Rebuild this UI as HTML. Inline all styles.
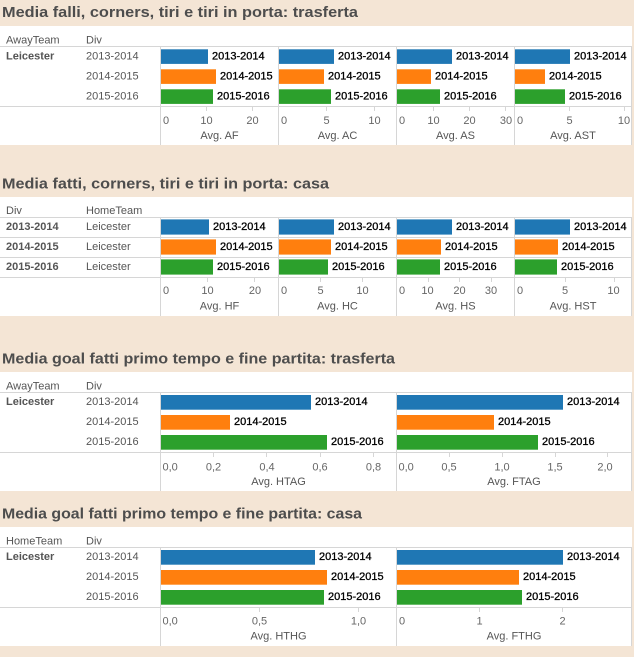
<!DOCTYPE html>
<html><head><meta charset="utf-8"><style>
html,body{margin:0;padding:0;background:#f4e5d5;}
svg{display:block;}
text{font-family:"Liberation Sans",Arial,sans-serif;font-size:11px;fill:#555;}
.t{font-size:15px;font-weight:bold;fill:#4d4d4d;}
.b{font-weight:bold;}
.v{fill:#000;stroke:#000;stroke-width:0.3px;}
.k{fill:#666;}
.m{text-anchor:middle;}
.ln{stroke:#d6d6d6;stroke-width:1;fill:none;}
.tk{stroke:#d6d6d6;stroke-width:1;}
</style></head><body>
<svg width="634" height="657" viewBox="0 0 634 657" xmlns="http://www.w3.org/2000/svg">
<rect x="0" y="0" width="634" height="657" fill="#f4e5d5"/>

<!-- ============ SECTION 1 ============ -->
<text class="t" x="2" y="17" textLength="356" lengthAdjust="spacingAndGlyphs">Media falli, corners, tiri e tiri in porta: trasferta</text>
<rect x="0" y="26" width="632" height="119" fill="#fff"/>
<text x="6" y="43.5">AwayTeam</text><text x="86" y="43.5">Div</text>
<path class="ln" d="M0 46.5H632M0 106.5H632M160.5 46.5V145M278.5 46.5V145M396.5 46.5V145M514.5 46.5V145M631.5 46.5V145"/>
<text class="b" x="6" y="59.5">Leicester</text>
<text x="86" y="59.5">2013-2014</text><text x="86" y="79.5">2014-2015</text><text x="86" y="99.5">2015-2016</text>
<!-- AF -->
<rect x="161" y="49.3" width="47" height="14.6" fill="#1f77b4"/>
<rect x="161" y="69.3" width="55" height="14.6" fill="#ff7f0e"/>
<rect x="161" y="89.3" width="52" height="14.6" fill="#2ca02c"/>
<text class="v" x="212" y="59.5">2013-2014</text><text class="v" x="220" y="79.5">2014-2015</text><text class="v" x="217" y="99.5">2015-2016</text>
<!-- AC -->
<rect x="279" y="49.3" width="55" height="14.6" fill="#1f77b4"/>
<rect x="279" y="69.3" width="45" height="14.6" fill="#ff7f0e"/>
<rect x="279" y="89.3" width="52" height="14.6" fill="#2ca02c"/>
<text class="v" x="338" y="59.5">2013-2014</text><text class="v" x="328" y="79.5">2014-2015</text><text class="v" x="335" y="99.5">2015-2016</text>
<!-- AS -->
<rect x="397" y="49.3" width="55" height="14.6" fill="#1f77b4"/>
<rect x="397" y="69.3" width="34" height="14.6" fill="#ff7f0e"/>
<rect x="397" y="89.3" width="43" height="14.6" fill="#2ca02c"/>
<text class="v" x="456" y="59.5">2013-2014</text><text class="v" x="435" y="79.5">2014-2015</text><text class="v" x="444" y="99.5">2015-2016</text>
<!-- AST -->
<rect x="515" y="49.3" width="55" height="14.6" fill="#1f77b4"/>
<rect x="515" y="69.3" width="30" height="14.6" fill="#ff7f0e"/>
<rect x="515" y="89.3" width="50" height="14.6" fill="#2ca02c"/>
<text class="v" x="574" y="59.5">2013-2014</text><text class="v" x="549" y="79.5">2014-2015</text><text class="v" x="569" y="99.5">2015-2016</text>
<!-- ticks -->
<path class="tk" d="M206.5 106.5V111M252.5 106.5V111M326.5 106.5V111M374.5 106.5V111M433.5 106.5V111M469.5 106.5V111M505.5 106.5V111M569.5 106.5V111M624.5 106.5V111"/>
<text class="k" x="163" y="124">0</text><text class="k m" x="206.5" y="124">10</text><text class="k m" x="252.5" y="124">20</text>
<text class="k" x="281" y="124">0</text><text class="k m" x="326.5" y="124">5</text><text class="k m" x="374.5" y="124">10</text>
<text class="k" x="399" y="124">0</text><text class="k m" x="433.5" y="124">10</text><text class="k m" x="469.5" y="124">20</text><text class="k m" x="506" y="124">30</text>
<text class="k" x="517" y="124">0</text><text class="k m" x="569.5" y="124">5</text><text class="k m" x="624" y="124">10</text>
<text class="m" x="219.5" y="139">Avg. AF</text><text class="m" x="337.5" y="139">Avg. AC</text><text class="m" x="455.5" y="139">Avg. AS</text><text class="m" x="573" y="139">Avg. AST</text>

<!-- ============ SECTION 2 ============ -->
<text class="t" x="2" y="188.5" textLength="327" lengthAdjust="spacingAndGlyphs">Media fatti, corners, tiri e tiri in porta: casa</text>
<rect x="0" y="197" width="632" height="119" fill="#fff"/>
<text x="6" y="214">Div</text><text x="86" y="214">HomeTeam</text>
<path class="ln" d="M0 217.5H632M0 237.5H632M0 257.5H632M0 277.5H632M160.5 217.5V316M278.5 217.5V316M396.5 217.5V316M514.5 217.5V316M631.5 217.5V316"/>
<text class="b" x="6" y="230">2013-2014</text><text class="b" x="6" y="250">2014-2015</text><text class="b" x="6" y="270">2015-2016</text>
<text x="86" y="230">Leicester</text><text x="86" y="250">Leicester</text><text x="86" y="270">Leicester</text>
<!-- HF -->
<rect x="161" y="219.4" width="48" height="15.2" fill="#1f77b4"/>
<rect x="161" y="239.4" width="55" height="15.2" fill="#ff7f0e"/>
<rect x="161" y="259.4" width="52" height="15.2" fill="#2ca02c"/>
<text class="v" x="213" y="230">2013-2014</text><text class="v" x="220" y="250">2014-2015</text><text class="v" x="217" y="270">2015-2016</text>
<!-- HC -->
<rect x="279" y="219.4" width="55" height="15.2" fill="#1f77b4"/>
<rect x="279" y="239.4" width="52" height="15.2" fill="#ff7f0e"/>
<rect x="279" y="259.4" width="49" height="15.2" fill="#2ca02c"/>
<text class="v" x="338" y="230">2013-2014</text><text class="v" x="335" y="250">2014-2015</text><text class="v" x="332" y="270">2015-2016</text>
<!-- HS -->
<rect x="397" y="219.4" width="55" height="15.2" fill="#1f77b4"/>
<rect x="397" y="239.4" width="44" height="15.2" fill="#ff7f0e"/>
<rect x="397" y="259.4" width="43" height="15.2" fill="#2ca02c"/>
<text class="v" x="456" y="230">2013-2014</text><text class="v" x="445" y="250">2014-2015</text><text class="v" x="444" y="270">2015-2016</text>
<!-- HST -->
<rect x="515" y="219.4" width="55" height="15.2" fill="#1f77b4"/>
<rect x="515" y="239.4" width="43" height="15.2" fill="#ff7f0e"/>
<rect x="515" y="259.4" width="42" height="15.2" fill="#2ca02c"/>
<text class="v" x="574" y="230">2013-2014</text><text class="v" x="562" y="250">2014-2015</text><text class="v" x="561" y="270">2015-2016</text>
<!-- ticks -->
<path class="tk" d="M207.5 277.5V282M254.5 277.5V282M320.5 277.5V282M362.5 277.5V282M428.5 277.5V282M459.5 277.5V282M491.5 277.5V282M565.5 277.5V282M614.5 277.5V282"/>
<text class="k" x="163" y="294">0</text><text class="k m" x="207.5" y="294">10</text><text class="k m" x="255" y="294">20</text>
<text class="k" x="281" y="294">0</text><text class="k m" x="320.5" y="294">5</text><text class="k m" x="362.5" y="294">10</text>
<text class="k" x="399" y="294">0</text><text class="k m" x="427.5" y="294">10</text><text class="k m" x="459.5" y="294">20</text><text class="k m" x="491" y="294">30</text>
<text class="k" x="517" y="294">0</text><text class="k m" x="565" y="294">5</text><text class="k m" x="613.5" y="294">10</text>
<text class="m" x="219.5" y="309.5">Avg. HF</text><text class="m" x="337.5" y="309.5">Avg. HC</text><text class="m" x="455.5" y="309.5">Avg. HS</text><text class="m" x="573" y="309.5">Avg. HST</text>

<!-- ============ SECTION 3 ============ -->
<text class="t" x="2" y="363.3" textLength="393" lengthAdjust="spacingAndGlyphs">Media goal fatti primo tempo e fine partita: trasferta</text>
<rect x="0" y="372" width="632" height="119" fill="#fff"/>
<text x="6" y="389.5">AwayTeam</text><text x="86" y="389.5">Div</text>
<path class="ln" d="M0 392.5H632M0 452.5H632M160.5 392.5V491M396.5 392.5V491M631.5 392.5V491"/>
<text class="b" x="6" y="405">Leicester</text>
<text x="86" y="405">2013-2014</text><text x="86" y="425">2014-2015</text><text x="86" y="445">2015-2016</text>
<!-- HTAG -->
<rect x="161" y="395" width="150" height="14.7" fill="#1f77b4"/>
<rect x="161" y="415" width="69" height="14.7" fill="#ff7f0e"/>
<rect x="161" y="435" width="166" height="14.7" fill="#2ca02c"/>
<text class="v" x="315" y="405">2013-2014</text><text class="v" x="234" y="425">2014-2015</text><text class="v" x="331" y="445">2015-2016</text>
<!-- FTAG -->
<rect x="397" y="395" width="166" height="14.7" fill="#1f77b4"/>
<rect x="397" y="415" width="97" height="14.7" fill="#ff7f0e"/>
<rect x="397" y="435" width="141" height="14.7" fill="#2ca02c"/>
<text class="v" x="567" y="405">2013-2014</text><text class="v" x="498" y="425">2014-2015</text><text class="v" x="542" y="445">2015-2016</text>
<!-- ticks -->
<path class="tk" d="M213.5 452.5V457M266.5 452.5V457M320.5 452.5V457M373.5 452.5V457M449.5 452.5V457M502.5 452.5V457M555.5 452.5V457M607.5 452.5V457"/>
<text class="k" x="162.5" y="470.5">0,0</text><text class="k m" x="213.5" y="470.5">0,2</text><text class="k m" x="267" y="470.5">0,4</text><text class="k m" x="320" y="470.5">0,6</text><text class="k m" x="373.5" y="470.5">0,8</text>
<text class="k" x="398.5" y="470.5">0,0</text><text class="k m" x="449" y="470.5">0,5</text><text class="k m" x="502" y="470.5">1,0</text><text class="k m" x="555" y="470.5">1,5</text><text class="k m" x="605" y="470.5">2,0</text>
<text class="m" x="278.5" y="485">Avg. HTAG</text><text class="m" x="514" y="485">Avg. FTAG</text>

<!-- ============ SECTION 4 ============ -->
<text class="t" x="2" y="518.3" textLength="360" lengthAdjust="spacingAndGlyphs">Media goal fatti primo tempo e fine partita: casa</text>
<rect x="0" y="527" width="632" height="119" fill="#fff"/>
<text x="6" y="544.3">HomeTeam</text><text x="86" y="544.3">Div</text>
<path class="ln" d="M0 547.5H632M0 607.5H632M160.5 547.5V646M396.5 547.5V646M631.5 547.5V646"/>
<text class="b" x="6" y="560">Leicester</text>
<text x="86" y="560">2013-2014</text><text x="86" y="580">2014-2015</text><text x="86" y="600">2015-2016</text>
<!-- HTHG -->
<rect x="161" y="550" width="154" height="14.7" fill="#1f77b4"/>
<rect x="161" y="570" width="166" height="14.7" fill="#ff7f0e"/>
<rect x="161" y="590" width="163" height="14.7" fill="#2ca02c"/>
<text class="v" x="319" y="560">2013-2014</text><text class="v" x="331" y="580">2014-2015</text><text class="v" x="328" y="600">2015-2016</text>
<!-- FTHG -->
<rect x="397" y="550" width="166" height="14.7" fill="#1f77b4"/>
<rect x="397" y="570" width="122" height="14.7" fill="#ff7f0e"/>
<rect x="397" y="590" width="125" height="14.7" fill="#2ca02c"/>
<text class="v" x="567" y="560">2013-2014</text><text class="v" x="523" y="580">2014-2015</text><text class="v" x="526" y="600">2015-2016</text>
<!-- ticks -->
<path class="tk" d="M259.5 607.5V612M358.5 607.5V612M479.5 607.5V612M562.5 607.5V612"/>
<text class="k" x="162.5" y="624.5">0,0</text><text class="k m" x="259.5" y="624.5">0,5</text><text class="k m" x="358.5" y="624.5">1,0</text>
<text class="k" x="399" y="624.5">0</text><text class="k m" x="479.5" y="624.5">1</text><text class="k m" x="562.5" y="624.5">2</text>
<text class="m" x="278.5" y="639.5">Avg. HTHG</text><text class="m" x="514" y="639.5">Avg. FTHG</text>
</svg>
</body></html>
